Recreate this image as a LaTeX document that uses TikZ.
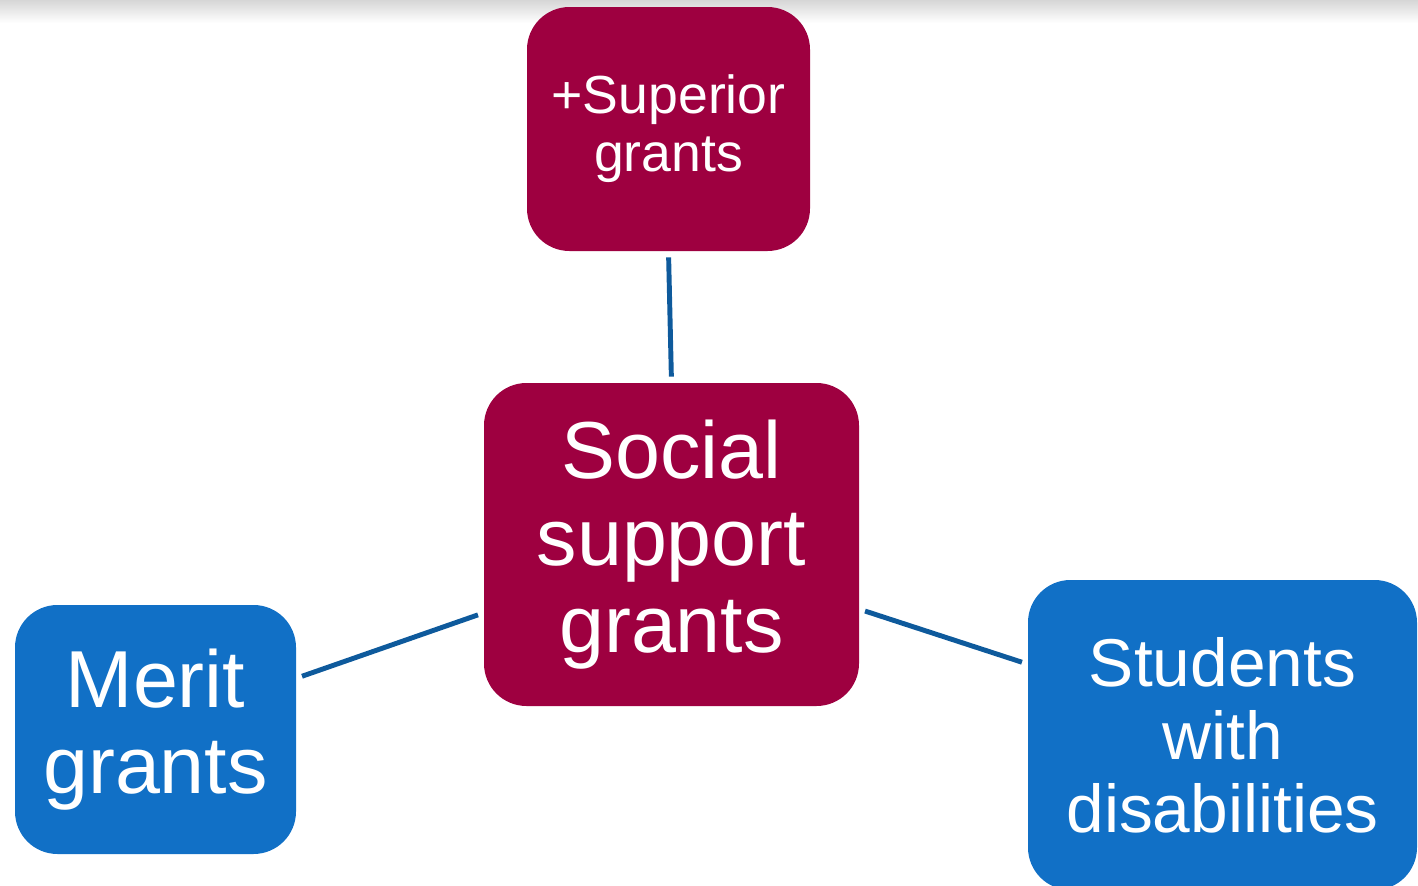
\documentclass[tikz,border=0pt]{standalone}
\usepackage{fontspec}
\setmainfont{Liberation Sans}
\usetikzlibrary{positioning}
\definecolor{grantred}{HTML}{9E0040}
\definecolor{grantblue}{HTML}{1170C6}
\definecolor{linkblue}{HTML}{0E5A9C}
\definecolor{stripgray}{HTML}{D6D6D6}
\tikzset{
	redbox/.style={fill=grantred, text=white, align=center, inner sep=0pt, rounded corners=0.85cm},
	bluebox/.style={fill=grantblue, text=white, align=center, inner sep=0pt, rounded corners=0.85cm},
	link/.style={draw=linkblue, line width=2.8pt, shorten >=0.12cm, shorten <=0.12cm}
}

\begin{document}
\begin{tikzpicture}
				
				\useasboundingbox (0,0) rectangle (28.36,-17.72);
				\shade[top color=stripgray, bottom color=white] (0,0) rectangle (28.36,-0.46);
				
				\node[redbox, minimum width=5.66cm, minimum height=4.88cm, font={\fontsize{30.5}{33}\selectfont}] (sup) at (13.37,-2.58) {+Superior\\grants};
				\node[redbox, minimum width=7.5cm, minimum height=6.46cm, font={\fontsize{46}{49.5}\selectfont}] (social) at (13.43,-10.89) {Social\\support\\grants};
				\node[bluebox, minimum width=5.62cm, minimum height=4.98cm, font={\fontsize{46}{48.5}\selectfont}] (merit) at (3.11,-14.59) {Merit\\grants};
				\node[bluebox, minimum width=7.78cm, minimum height=6.2cm, font={\fontsize{38.5}{41.5}\selectfont}] (students) at (24.45,-14.7) {Students\\with\\disabilities};
				
				\draw[link] (sup.south) -- (social.north);
				\draw[link] (merit.20) -- (social.200);
				\draw[link] (social.341) -- (students.160);
			\end{tikzpicture}
\end{document}
